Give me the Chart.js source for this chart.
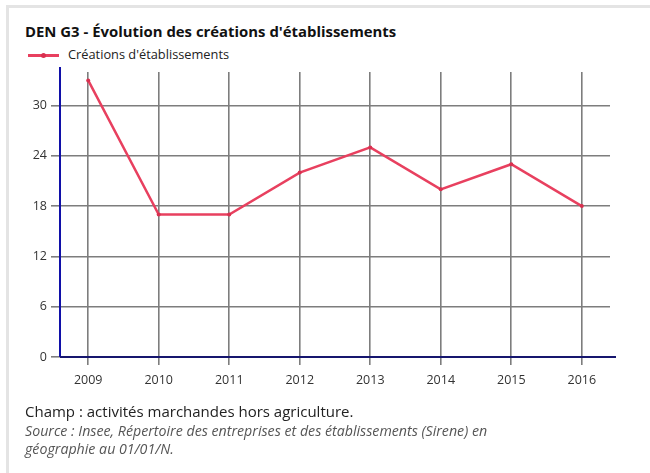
<!DOCTYPE html>
<html>
<head>
<meta charset="utf-8">
<script src="https://cdn.jsdelivr.net/npm/chart.js@4"></script>
<style>
  html, body { margin: 0; padding: 0; background: #fff; }
  body { width: 650px; height: 473px; position: relative; overflow: hidden; font-family: 'Open Sans', sans-serif; color: #222; }
  .frame { position: absolute; left: 6px; top: 5px; width: 700px; height: 520px; border: 3px solid #e4e4e4; }
  .title { position: absolute; left: 25px; top: 21px; font-size: 14.9px; font-weight: bold; color: #111; white-space: nowrap; }
  .legend { position: absolute; left: 28px; top: 46px; font-size: 12.8px; color: #222; white-space: nowrap; }
  .legend .mark { position: absolute; left: 0; top: 8px; width: 31px; height: 2.5px; background: #e8405f; }
  .legend .dot { position: absolute; left: 13px; top: 7px; width: 5px; height: 5px; border-radius: 50%; background: #d9304f; }
  .legend .txt { position: absolute; left: 40px; top: -1px; }
  .notes { position: absolute; left: 25px; top: 401px; white-space: nowrap; }
  .champ { font-size: 15px; line-height: 21px; color: #222; }
  .source { font-size: 14.2px; line-height: 18px; font-style: italic; color: #555; }
  canvas { position: absolute; left: 0; top: 0; }
</style>
</head>
<body>
<div class="frame"></div>
<div class="title">DEN G3 - Évolution des créations d'établissements</div>
<div class="legend"><span class="mark"></span><span class="dot"></span><span class="txt">Créations d'établissements</span></div>
<canvas id="chart" width="650" height="473"></canvas>
<div class="notes">
  <div class="champ">Champ : activités marchandes hors agriculture.</div>
  <div class="source">Source : Insee, Répertoire des entreprises et des établissements (Sirene) en<br>géographie au 01/01/N.</div>
</div>
<script>
const years = [2009, 2010, 2011, 2012, 2013, 2014, 2015, 2016];
const creations = [33, 17, 17, 22, 25, 20, 23, 18];
const yTicks = [0, 6, 12, 18, 24, 30];

// axis lines drawn by hand: the y line runs a bit above the plot, the x line a bit past it
const axisLines = {
    id: 'axisLines',
    afterDraw(chart) {
        const c = chart.ctx;
        const a = chart.chartArea;
        c.save();
        c.lineWidth = 2;
        c.strokeStyle = '#1010a8';
        c.beginPath();
        c.moveTo(a.left, a.top - 5);
        c.lineTo(a.left, a.bottom);
        c.stroke();
        c.strokeStyle = '#16166e';
        c.beginPath();
        c.moveTo(a.left, a.bottom);
        c.lineTo(a.right + 6, a.bottom);
        c.stroke();
        c.restore();
    }
};

const ctx = document.getElementById('chart').getContext('2d');
new Chart(ctx, {
    type: 'line',
    data: {
        datasets: [{
            label: "Créations d'établissements",
            data: years.map((y, i) => ({ x: y, y: creations[i] })),
            borderColor: '#e8405f',
            backgroundColor: '#d9304f',
            borderWidth: 2.5,
            pointRadius: 2,
            pointHoverRadius: 2,
            pointBorderWidth: 0,
            tension: 0
        }]
    },
    options: {
        responsive: false,
        animation: false,
        layout: { padding: { left: 0, right: 40, top: 72, bottom: 0 } },
        plugins: {
            legend: { display: false },
            tooltip: { enabled: false }
        },
        scales: {
            x: {
                type: 'linear',
                min: 2008.6,
                max: 2016.4,
                afterBuildTicks: (scale) => { scale.ticks = years.map(v => ({ value: v })); },
                afterFit: (scale) => { scale.height = 116; },
                border: { display: false },
                grid: { color: '#7d7d7d', lineWidth: 1.6, tickLength: 8, drawTicks: true },
                ticks: {
                    callback: (v) => String(v),
                    color: '#333',
                    font: { family: 'Open Sans', size: 12.5 },
                    padding: 8,
                    maxRotation: 0
                }
            },
            y: {
                min: 0,
                max: 34,
                afterBuildTicks: (scale) => { scale.ticks = yTicks.map(v => ({ value: v })); },
                afterFit: (scale) => { scale.width = 60; },
                border: { display: false },
                grid: { color: '#7d7d7d', lineWidth: 1.6, tickLength: 9, drawTicks: true },
                ticks: {
                    color: '#333',
                    font: { family: 'Open Sans', size: 12.5 },
                    padding: 4
                }
            }
        }
    },
    plugins: [axisLines]
});
</script>
</body>
</html>
